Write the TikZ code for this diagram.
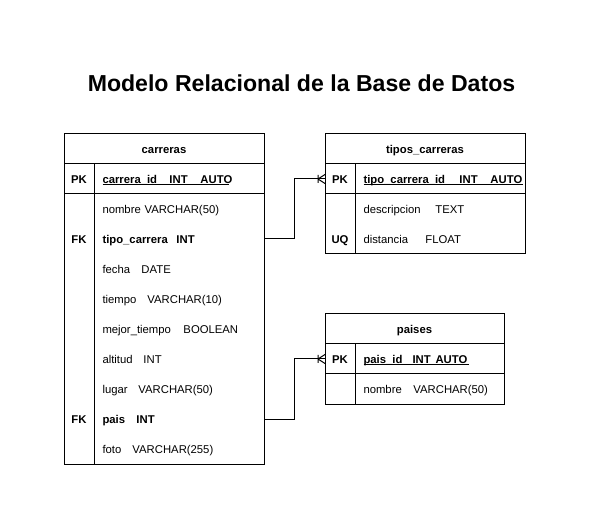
\documentclass[tikz,border=0pt]{standalone}
\usepackage{fontspec}
\setmainfont{Liberation Sans}
\newcommand\wcol[2]{\makebox[#1pt][l]{#2}}
\newcommand\ulbar[1]{\rlap{\rule[-2pt]{#1pt}{0.8pt}}}
\begin{document}
\begin{tikzpicture}[x=1pt,y=-1pt,
  every node/.style={inner sep=0pt, outer sep=0pt},
  frame/.style={draw=black, line width=1pt},
  rel/.style={draw=black, line width=1pt},
  hdr/.style={font=\fontsize{11.3}{13}\selectfont\bfseries, minimum height=30pt, text height=8.2pt, text depth=0pt},
  keycell/.style={font=\fontsize{11.3}{13}\selectfont\bfseries, minimum width=30pt, minimum height=30pt, text height=8.2pt, text depth=0pt},
  fieldcell/.style={font=\fontsize{11.3}{13}\selectfont, minimum height=30pt, text height=8.2pt, text depth=0pt, inner xsep=8.5pt, align=left},
  cfield/.style={fieldcell, text width=153pt},
  cfieldb/.style={cfield, font=\fontsize{11.3}{13}\selectfont\bfseries},
  pfield/.style={fieldcell, text width=132pt},
  pfieldb/.style={pfield, font=\fontsize{11.3}{13}\selectfont\bfseries},
  crowfoot/.pic={\draw[rel] (-7,0) -- (0,-4.5) (-7,0) -- (0,4.5) (-7,-4) -- (-7,4);}
  ]
\useasboundingbox (0,0) rectangle (600,529);

% title
\node[font=\fontsize{23.1}{28}\selectfont\bfseries, anchor=base] (title) at (301.5,92) {Modelo Relacional de la Base de Datos};

% carreras
\draw[frame] (64,134) rectangle (264,464);
\draw[frame] (64,164) -- (264,164) (64,194) -- (264,194) (94,164) -- (94,464);
\node[hdr, minimum width=200pt] (c-h) at (164,149) {carreras};
\node[keycell] (c-pkk) at (79,179) {PK};
\node[cfieldb] (c-pk) at (179,179) {\ulbar{126}\wcol{67}{carrera\_id}\wcol{31}{INT}AUTO};
\node[cfield] (c-nombre) at (179,209) {nombre VARCHAR(50)};
\node[keycell] (c-fk1) at (79,239) {FK};
\node[cfieldb] (c-tipo) at (179,239) {\wcol{74}{tipo\_carrera}INT};
\node[cfield] (c-fecha) at (179,269) {\wcol{39}{fecha}DATE};
\node[cfield] (c-tiempo) at (179,299) {\wcol{45}{tiempo}VARCHAR(10)};
\node[cfield] (c-mejor) at (179,329) {\wcol{81}{mejor\_tiempo}BOOLEAN};
\node[cfield] (c-altitud) at (179,359) {\wcol{41}{altitud}INT};
\node[cfield] (c-lugar) at (179,389) {\wcol{36}{lugar}VARCHAR(50)};
\node[keycell] (c-fk2) at (79,419) {FK};
\node[cfieldb] (c-pais) at (179,419) {\wcol{34}{pais}INT};
\node[cfield] (c-foto) at (179,449) {\wcol{30}{foto}VARCHAR(255)};

% tipos_carreras
\draw[frame] (325,134) rectangle (525,254);
\draw[frame] (325,164) -- (525,164) (325,194) -- (525,194) (355,164) -- (355,254);
\node[hdr, minimum width=200pt] (t-h) at (425,149) {tipos\_carreras};
\node[keycell] (t-pkk) at (340,179) {PK};
\node[cfieldb] (t-pk) at (440,179) {\ulbar{159}\wcol{96}{tipo\_carrera\_id}\wcol{31}{INT}AUTO};
\node[cfield] (t-desc) at (440,209) {\wcol{72}{descripcion}TEXT};
\node[keycell] (t-uq) at (340,239) {UQ};
\node[cfield] (t-dist) at (440,239) {\wcol{62}{distancia}FLOAT};

% paises
\draw[frame] (325,314) rectangle (504,404);
\draw[frame] (325,344) -- (504,344) (325,374) -- (504,374) (355,344) -- (355,404);
\node[hdr, minimum width=179pt] (p-h) at (414.5,329) {paises};
\node[keycell] (p-pkk) at (340,359) {PK};
\node[pfieldb] (p-pk) at (429.5,359) {\ulbar{105}\wcol{49}{pais\_id}\wcol{23}{INT}AUTO};
\node[pfield] (p-nombre) at (429.5,389) {\wcol{50}{nombre}VARCHAR(50)};

% relations
\draw[rel] (c-tipo.east) -- ++(30,0) |- (t-pkk.west);
\pic at (t-pkk.west) {crowfoot};
\draw[rel] (c-pais.east) -- ++(30,0) |- (p-pkk.west);
\pic at (p-pkk.west) {crowfoot};
\end{tikzpicture}
\end{document}
